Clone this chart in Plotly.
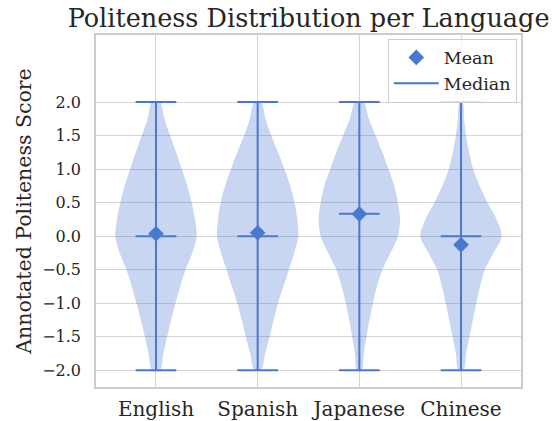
import plotly.graph_objects as go

# ---- data ----
LANGUAGES = ["English", "Spanish", "Japanese", "Chinese"]
POSITIONS = [1, 2, 3, 4]
MEANS = [0.035, 0.05, 0.33, -0.13]
MEDIANS = [0.0, 0.0, 0.333, 0.0]
SCORE_MIN = [-2.0, -2.0, -2.0, -2.0]
SCORE_MAX = [2.0, 2.0, 2.0, 2.0]

# score levels at which the violin density (relative half-width) was read
SCORE_LEVELS = [2.0, 1.75, 1.5, 1.25, 1.0, 0.75, 0.5, 0.25, 0.0,
                -0.25, -0.5, -0.75, -1.0, -1.25, -1.5, -1.75, -2.0]
DENSITY_ENGLISH = [12, 25, 42, 60, 77, 93, 106, 116, 121, 108, 88, 72, 58, 45, 33, 22, 12]
DENSITY_SPANISH = [10, 23, 40, 60, 79, 96, 109, 117, 120, 108, 92, 76, 60, 47, 35, 22, 10]
DENSITY_JAPANESE = [12, 28, 48, 68, 86, 103, 114, 120, 114, 92, 68, 52, 40, 30, 21, 13, 7]
DENSITY_CHINESE = [5, 9, 15, 24, 36, 55, 78, 105, 120, 96, 70, 56, 45, 35, 25, 15, 8]
DENSITIES = [DENSITY_ENGLISH, DENSITY_SPANISH, DENSITY_JAPANESE, DENSITY_CHINESE]

Y_TICKS = [-2.0, -1.5, -1.0, -0.5, 0.0, 0.5, 1.0, 1.5, 2.0]
Y_TICK_LABELS = ["\u22122.0", "\u22121.5", "\u22121.0", "\u22120.5", "0.0", "0.5", "1.0", "1.5", "2.0"]

# ---- styling ----
BLUE = "#4878d0"
FILL = "rgba(72,120,208,0.3)"
FONT = "DejaVu Serif"
VIOLIN_WIDTH = 0.8
CAP_HALF = 0.2

fig = go.Figure()

# violin bodies
for pos, dens in zip(POSITIONS, DENSITIES):
    m = max(dens)
    half = [d / m * VIOLIN_WIDTH / 2 for d in dens]
    xs = [pos + h for h in half] + [pos - h for h in half[::-1]]
    ys = list(SCORE_LEVELS) + list(SCORE_LEVELS[::-1])
    xs.append(xs[0]); ys.append(ys[0])
    fig.add_trace(go.Scatter(x=xs, y=ys, mode="lines", fill="toself",
                             fillcolor=FILL, line=dict(width=0, shape="spline", smoothing=0.8),
                             hoverinfo="skip", showlegend=False))

# vertical bars and caps
bx, by, cx, cy = [], [], [], []
for pos, lo, hi in zip(POSITIONS, SCORE_MIN, SCORE_MAX):
    bx += [pos, pos, None]; by += [lo, hi, None]
    cx += [pos - CAP_HALF, pos + CAP_HALF, None, pos - CAP_HALF, pos + CAP_HALF, None]
    cy += [lo, lo, None, hi, hi, None]
fig.add_trace(go.Scatter(x=bx, y=by, mode="lines", line=dict(color=BLUE, width=2),
                         showlegend=False, hoverinfo="skip"))
fig.add_trace(go.Scatter(x=cx, y=cy, mode="lines", line=dict(color=BLUE, width=2),
                         showlegend=False, hoverinfo="skip"))

# means
fig.add_trace(go.Scatter(x=POSITIONS, y=MEANS, mode="markers", name="Mean",
                         marker=dict(symbol="diamond", size=12, color=BLUE)))

# medians
mx, my = [], []
for pos, med in zip(POSITIONS, MEDIANS):
    mx += [pos - CAP_HALF, pos + CAP_HALF, None]; my += [med, med, None]
fig.add_trace(go.Scatter(x=mx, y=my, mode="lines", name="Median",
                         line=dict(color=BLUE, width=2)))

fig.update_layout(
    width=554, height=421,
    margin=dict(l=96, r=33, t=35, b=34, autoexpand=False),
    paper_bgcolor="white", plot_bgcolor="white",
    font=dict(family=FONT, color="#262626"),
    title=dict(text="Politeness Distribution per Language", x=0.557, xanchor="center",
               y=0.957, yanchor="middle", yref="container", automargin=False,
               font=dict(size=25.5, family=FONT, color="#262626")),
    legend=dict(x=0.99, y=0.99, xanchor="right", yanchor="top",
                bgcolor="rgba(255,255,255,0.8)", bordercolor="#cccccc", borderwidth=1,
                font=dict(size=17.5, family=FONT, color="#262626"),
                itemwidth=45),
    showlegend=True,
)
fig.update_xaxes(range=[0.41, 4.59], tickvals=POSITIONS, ticktext=LANGUAGES,
                 showgrid=True, gridcolor="#d5d5d5", gridwidth=1, automargin=False,
                 showline=True, mirror=True, linecolor="#cccccc", linewidth=1.5,
                 zeroline=False, ticks="", ticklabelstandoff=3,
                 tickfont=dict(size=20, family=FONT, color="#262626"))
fig.update_yaxes(range=[-2.25, 3.0], tickvals=Y_TICKS, ticktext=Y_TICK_LABELS,
                 showgrid=True, gridcolor="#d5d5d5", gridwidth=1, automargin=False,
                 showline=True, mirror=True, linecolor="#cccccc", linewidth=1.5,
                 zeroline=False, ticks="", ticklabelstandoff=10,
                 tickfont=dict(size=16, family=FONT, color="#262626"),
                 title=dict(text="Annotated Politeness Score", standoff=5,
                            font=dict(size=20.5, family=FONT, color="#262626")))

fig.write_html("out.html", config={"displayModeBar": False},
               post_script="document.body.style.margin='0';document.body.style.overflow='hidden';")
